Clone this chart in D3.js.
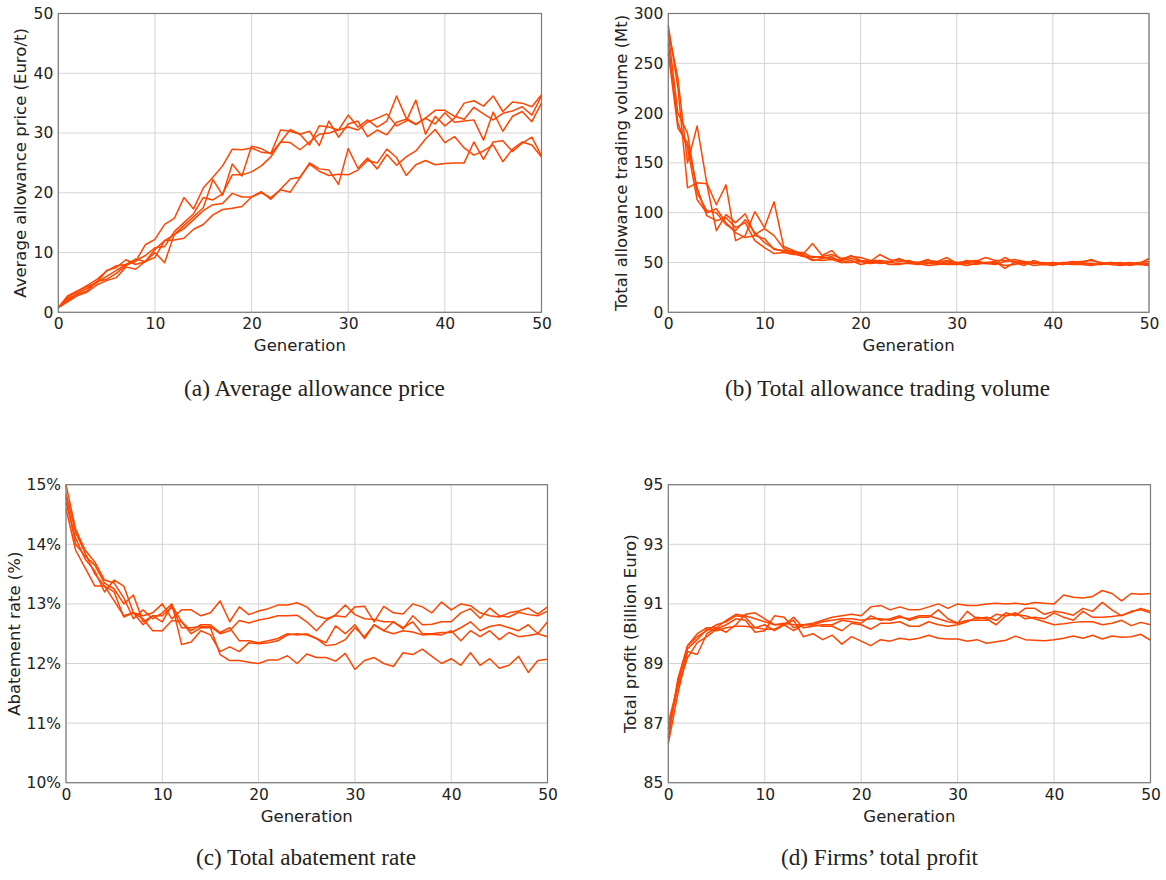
<!DOCTYPE html>
<html>
<head>
<meta charset="utf-8">
<script src="https://cdn.jsdelivr.net/npm/d3@7"></script>
<style>
  body { margin: 0; background: #fff; }
  svg text { font-family: "DejaVu Sans", sans-serif; fill: #222; }
  .caption { font-family: "Liberation Serif", "Times New Roman", serif; }
</style>
</head>
<body>
<svg id="chart" width="1166" height="880"></svg>
<script>
// generations 0..50
var generations = d3.range(0, 51);
var xTicks = [0, 10, 20, 30, 40, 50];

// (a) average allowance price, five runs
var priceRuns = [
  [0.8, 2.0, 3.2, 4.0, 5.0, 6.0, 7.0, 8.0, 8.5, 11.3, 12.2, 14.7, 15.7, 19.2, 17.3, 20.8, 22.6, 24.5, 27.3, 27.2, 27.5, 26.8, 26.6, 30.5, 30.3, 29.8, 30.3, 27.9, 32.0, 29.3, 31.5, 32.0, 29.4, 30.5, 29.7, 31.8, 32.3, 31.4, 32.5, 33.8, 33.8, 32.8, 32.3, 34.3, 33.2, 32.2, 33.3, 33.7, 34.4, 33.0, 36.2],
  [0.8, 2.5, 3.5, 4.3, 5.0, 7.0, 7.5, 8.8, 8.0, 8.5, 10.5, 12.0, 13.0, 14.5, 16.0, 17.5, 22.2, 19.6, 24.8, 22.8, 27.8, 27.4, 26.5, 28.5, 30.6, 29.8, 28.0, 31.2, 31.0, 30.5, 33.0, 31.0, 32.2, 31.0, 32.0, 36.2, 32.5, 31.5, 32.5, 31.5, 33.4, 31.8, 32.0, 32.2, 28.8, 33.5, 30.3, 32.8, 33.6, 31.9, 35.0],
  [0.8, 2.3, 3.0, 3.6, 5.2, 5.5, 6.5, 7.8, 8.6, 9.5, 10.8, 11.0, 13.5, 15.0, 16.5, 19.2, 18.8, 19.8, 23.0, 23.0, 23.5, 24.5, 26.0, 28.5, 28.4, 27.2, 28.5, 29.8, 30.0, 30.5, 31.0, 30.5, 31.8, 32.5, 33.2, 31.2, 32.0, 35.5, 29.8, 32.8, 31.2, 32.5, 35.0, 35.4, 34.5, 36.2, 33.6, 35.2, 35.0, 34.4, 36.4],
  [0.8, 2.8, 3.6, 4.5, 5.5, 6.9, 7.8, 8.0, 8.9, 8.5, 10.0, 8.3, 13.0, 14.0, 15.5, 17.0, 18.0, 18.2, 19.9, 19.3, 19.3, 20.2, 18.9, 20.6, 22.3, 22.6, 24.8, 23.6, 22.9, 23.1, 23.0, 23.8, 25.4, 25.0, 27.3, 25.9, 22.9, 24.7, 25.4, 24.7, 24.9, 25.0, 25.0, 28.5, 25.6, 28.5, 28.7, 26.9, 28.3, 29.3, 26.2],
  [0.8, 1.8, 2.8, 3.4, 4.6, 5.3, 5.8, 7.6, 7.2, 8.5, 9.2, 12.0, 12.1, 12.4, 13.9, 14.7, 16.3, 17.2, 17.4, 17.7, 19.3, 20.0, 19.2, 20.5, 20.1, 22.5, 25.0, 24.0, 23.8, 21.4, 27.4, 24.1, 25.8, 24.0, 26.4, 24.6, 26.0, 27.0, 29.0, 30.6, 28.4, 29.4, 27.5, 26.3, 27.0, 28.0, 25.2, 27.3, 28.5, 28.0, 26.0]
];
var priceTicks = [0, 10, 20, 30, 40, 50];

// (b) total allowance trading volume (Mt)
var volumeRuns = [
  [283, 235, 150, 187, 130, 108, 128, 72, 77, 101, 85, 111, 66, 62, 58, 69, 57, 62, 52, 57, 52, 51, 58, 53, 51, 52, 49, 52, 51, 55, 49, 50, 51, 55, 52, 52, 51, 49, 50, 48, 50, 49, 51, 50, 53, 49, 50, 48, 49, 49, 54],
  [288, 225, 125, 130, 129, 82, 98, 90, 99, 78, 84, 77, 64, 60, 60, 55, 56, 58, 54, 56, 55, 52, 49, 50, 54, 50, 50, 53, 48, 51, 48, 52, 50, 50, 49, 55, 50, 47, 52, 49, 50, 48, 50, 49, 49, 48, 49, 50, 47, 49, 48],
  [270, 190, 165, 113, 100, 104, 90, 80, 75, 77, 74, 63, 62, 61, 57, 52, 54, 56, 50, 52, 48, 50, 51, 48, 48, 50, 49, 47, 48, 49, 49, 47, 49, 49, 50, 47, 48, 50, 47, 48, 47, 49, 48, 48, 47, 49, 48, 47, 48, 48, 47],
  [260, 185, 170, 125, 97, 92, 95, 85, 90, 72, 65, 59, 60, 58, 58, 53, 52, 53, 50, 50, 51, 49, 50, 50, 49, 49, 48, 49, 49, 48, 48, 49, 48, 50, 51, 44, 50, 51, 50, 49, 49, 48, 49, 50, 48, 48, 50, 49, 49, 50, 51],
  [280, 200, 180, 120, 102, 100, 88, 82, 93, 80, 70, 64, 61, 59, 56, 56, 55, 54, 52, 54, 51, 52, 52, 51, 53, 51, 50, 50, 50, 52, 50, 51, 52, 49, 48, 51, 53, 51, 49, 50, 48, 50, 50, 51, 52, 50, 49, 49, 50, 48, 49]
];
var volumeTicks = [0, 50, 100, 150, 200, 250, 300];

// (c) total abatement rate (%)
var abatementRuns = [
  [14.85, 14.2, 13.85, 13.5, 13.3, 13.05, 12.8, 12.85, 12.8, 12.85, 13.0, 12.75, 12.9, 12.9, 12.8, 12.85, 13.05, 12.7, 12.95, 12.82, 12.88, 12.92, 12.98, 12.98, 13.02, 12.95, 12.8, 12.75, 12.8, 12.78, 12.95, 12.96, 12.7, 12.96, 12.85, 12.83, 13.0, 12.95, 12.85, 13.03, 12.9, 13.0, 12.97, 12.85, 12.8, 12.78, 12.85, 12.88, 12.93, 12.83, 12.95],
  [14.7, 14.1, 13.75, 13.55, 13.2, 13.4, 13.3, 12.85, 12.65, 12.8, 12.8, 12.95, 12.6, 12.6, 12.62, 12.62, 12.5, 12.55, 12.72, 12.68, 12.73, 12.76, 12.8, 12.8, 12.81, 12.7, 12.55, 12.72, 12.82, 12.98, 12.82, 12.75, 12.74, 12.7, 12.7, 12.58, 12.8, 12.65, 12.66, 12.7, 12.7, 12.85, 12.92, 12.76, 12.93, 12.8, 12.78, 12.86, 12.82, 12.8, 12.88],
  [14.8, 14.0, 13.8, 13.65, 13.35, 13.25, 13.0, 13.15, 12.7, 12.8, 12.7, 12.98, 12.7, 12.55, 12.65, 12.65, 12.52, 12.6, 12.38, 12.38, 12.35, 12.38, 12.42, 12.5, 12.48, 12.5, 12.42, 12.3, 12.32, 12.4, 12.6, 12.45, 12.65, 12.55, 12.7, 12.6, 12.7, 12.5, 12.5, 12.52, 12.52, 12.6, 12.7, 12.55, 12.62, 12.65, 12.6, 12.55, 12.65, 12.5, 12.7],
  [15.0, 14.25, 13.9, 13.7, 13.4, 13.35, 13.1, 12.75, 12.9, 12.75, 12.85, 13.0, 12.32, 12.36, 12.55, 12.48, 12.2, 12.28, 12.2, 12.35, 12.33, 12.35, 12.38, 12.48, 12.5, 12.48, 12.42, 12.35, 12.63, 12.5, 12.65, 12.42, 12.65, 12.55, 12.5, 12.55, 12.53, 12.48, 12.49, 12.48, 12.55, 12.38, 12.55, 12.45, 12.55, 12.4, 12.52, 12.45, 12.47, 12.5, 12.45],
  [14.6, 13.9, 13.6, 13.3, 13.3, 13.2, 12.78, 12.85, 12.75, 12.55, 12.55, 12.72, 12.7, 12.5, 12.6, 12.6, 12.15, 12.05, 12.05, 12.02, 12.0, 12.06, 12.06, 12.13, 12.0, 12.16, 12.1, 12.1, 12.04, 12.17, 11.9, 12.05, 12.1, 12.0, 11.95, 12.18, 12.15, 12.24, 12.12, 12.0, 12.08, 11.97, 12.18, 11.97, 12.08, 11.92, 11.97, 12.12, 11.85, 12.05, 12.07]
];
var abatementTicks = [10, 11, 12, 13, 14, 15];

// (d) firms' total profit (Billion Euro)
var profitRuns = [
  [86.6, 88.5, 89.6, 90.0, 90.2, 90.2, 90.45, 90.65, 90.6, 90.5, 90.4, 90.3, 90.35, 90.3, 90.3, 90.35, 90.45, 90.55, 90.6, 90.65, 90.6, 90.9, 90.95, 90.8, 90.9, 90.8, 90.8, 90.9, 91.0, 90.85, 91.0, 90.95, 90.95, 91.0, 91.02, 91.0, 91.02, 90.98, 91.05, 91.02, 91.0, 91.3, 91.22, 91.2, 91.25, 91.45, 91.35, 91.1, 91.35, 91.32, 91.35],
  [86.3, 88.0, 89.4, 89.3, 90.0, 90.2, 90.05, 90.3, 90.65, 90.7, 90.5, 90.3, 90.3, 90.55, 90.2, 90.25, 90.3, 90.3, 90.45, 90.4, 90.35, 90.6, 90.45, 90.5, 90.6, 90.45, 90.55, 90.55, 90.8, 90.5, 90.35, 90.75, 90.5, 90.55, 90.45, 90.7, 90.6, 90.85, 90.85, 90.65, 90.75, 90.7, 90.62, 90.85, 90.75, 91.05, 90.8, 90.6, 90.75, 90.8, 90.7],
  [87.0, 88.3, 89.5, 89.8, 90.15, 90.1, 90.2, 90.25, 90.25, 90.2, 90.15, 90.15, 90.3, 90.1, 90.3, 90.3, 90.25, 90.25, 90.1, 90.35, 90.3, 90.15, 90.35, 90.35, 90.4, 90.25, 90.25, 90.4, 90.3, 90.25, 90.3, 90.4, 90.55, 90.5, 90.3, 90.6, 90.7, 90.5, 90.55, 90.5, 90.7, 90.55, 90.45, 90.75, 90.55, 90.55, 90.58, 90.62, 90.72, 90.85, 90.75],
  [86.8, 88.2, 89.2, 89.7, 89.9, 90.15, 90.3, 90.5, 90.45, 90.05, 90.1, 90.6, 90.55, 90.2, 90.3, 90.3, 90.4, 90.45, 90.5, 90.5, 90.45, 90.5, 90.5, 90.45, 90.55, 90.5, 90.6, 90.6, 90.5, 90.4, 90.35, 90.45, 90.45, 90.45, 90.65, 90.6, 90.65, 90.6, 90.5, 90.4, 90.3, 90.33, 90.38, 90.4, 90.4, 90.3, 90.35, 90.45, 90.27, 90.38, 90.3],
  [86.5, 88.4, 89.6, 89.9, 90.1, 90.3, 90.4, 90.6, 90.55, 90.2, 90.3, 90.1, 90.3, 90.45, 89.9, 90.0, 89.8, 89.95, 89.65, 89.9, 89.75, 89.6, 89.8, 89.75, 89.85, 89.8, 89.85, 89.95, 89.85, 89.82, 89.82, 89.75, 89.8, 89.68, 89.73, 89.78, 89.92, 89.8, 89.78, 89.76, 89.8, 89.85, 89.92, 89.85, 89.95, 89.82, 89.92, 89.88, 89.9, 89.98, 89.78]
];
var profitTicks = [85, 87, 89, 91, 93, 95];

var svg = d3.select("#chart");
var lineColor = "#ff4500";

//Draw one panel
function drawPanel(opt) {
    var x = d3.scaleLinear().domain([0, 50]).range([opt.left, opt.right]);
    var y = d3.scaleLinear().domain(opt.yDomain).range([opt.bottom, opt.top]);
    var g = svg.append("g");

    // grid lines
    g.selectAll(".vgrid").data(xTicks).enter().append("line")
        .attr("x1", d => x(d)).attr("x2", d => x(d))
        .attr("y1", opt.top).attr("y2", opt.bottom)
        .attr("stroke", "#d4d4d4").attr("stroke-width", 1);
    g.selectAll(".hgrid").data(opt.yTicks).enter().append("line")
        .attr("x1", opt.left).attr("x2", opt.right)
        .attr("y1", d => y(d)).attr("y2", d => y(d))
        .attr("stroke", "#d4d4d4").attr("stroke-width", 1);

    // runs
    var line = d3.line().x((d, i) => x(generations[i])).y(d => y(d));
    g.selectAll(".run").data(opt.runs).enter().append("path")
        .attr("d", line)
        .attr("fill", "none")
        .attr("stroke", lineColor)
        .attr("stroke-width", 1.5)
        .attr("stroke-linejoin", "round");

    // frame
    g.append("rect")
        .attr("x", opt.left).attr("y", opt.top)
        .attr("width", opt.right - opt.left).attr("height", opt.bottom - opt.top)
        .attr("fill", "none").attr("stroke", "#7a7a7a").attr("stroke-width", 1.2);

    // axes (labels only, matplotlib style)
    var xAxis = d3.axisBottom(x).tickValues(xTicks).tickSize(0).tickPadding(6);
    g.append("g").attr("transform", "translate(0," + opt.bottom + ")").call(xAxis)
        .call(s => s.select(".domain").remove())
        .selectAll("text").attr("font-size", 15.5).attr("fill", "#222");
    var yAxis = d3.axisLeft(y).tickValues(opt.yTicks).tickSize(0).tickPadding(5)
        .tickFormat(opt.tickFormat || (d => d));
    g.append("g").attr("transform", "translate(" + opt.left + ",0)").call(yAxis)
        .call(s => s.select(".domain").remove())
        .selectAll("text").attr("font-size", 15.5).attr("fill", "#222");

    // axis titles
    g.append("text")
        .attr("x", (opt.left + opt.right) / 2).attr("y", opt.bottom + 39)
        .attr("text-anchor", "middle").attr("font-size", 16.5)
        .text("Generation");
    g.append("text")
        .attr("transform", "translate(" + opt.yLabelX + "," + (opt.top + opt.bottom) / 2 + ") rotate(-90)")
        .attr("text-anchor", "middle").attr("dy", "0.35em").attr("font-size", 16.5)
        .text(opt.yLabel);

    // caption under the panel
    svg.append("text")
        .classed("caption", true)
        .attr("x", opt.capX).attr("y", opt.capY)
        .attr("font-size", 24)
        .attr("textLength", opt.capW).attr("lengthAdjust", "spacingAndGlyphs")
        .text(opt.caption);
}

drawPanel({left: 58.3, right: 541.5, top: 13.5, bottom: 312.3, yDomain: [0, 50], yTicks: priceTicks,
    runs: priceRuns, yLabel: "Average allowance price (Euro/t)", yLabelX: 20,
    caption: "(a) Average allowance price", capX: 184, capY: 396, capW: 261});
drawPanel({left: 668.3, right: 1149, top: 13.5, bottom: 312.3, yDomain: [0, 300], yTicks: volumeTicks,
    runs: volumeRuns, yLabel: "Total allowance trading volume (Mt)", yLabelX: 621,
    caption: "(b) Total allowance trading volume", capX: 725, capY: 396, capW: 325});
drawPanel({left: 66, right: 547.5, top: 484.7, bottom: 782.7, yDomain: [10, 15], yTicks: abatementTicks,
    runs: abatementRuns, yLabel: "Abatement rate (%)", yLabelX: 14, tickFormat: d => d + "%",
    caption: "(c) Total abatement rate", capX: 196, capY: 865, capW: 220});
drawPanel({left: 668.3, right: 1150.5, top: 484.7, bottom: 782.7, yDomain: [85, 95], yTicks: profitTicks,
    runs: profitRuns, yLabel: "Total profit (Billion Euro)", yLabelX: 630,
    caption: "(d) Firms\u2019 total profit", capX: 781, capY: 865, capW: 197});
</script>
</body>
</html>
